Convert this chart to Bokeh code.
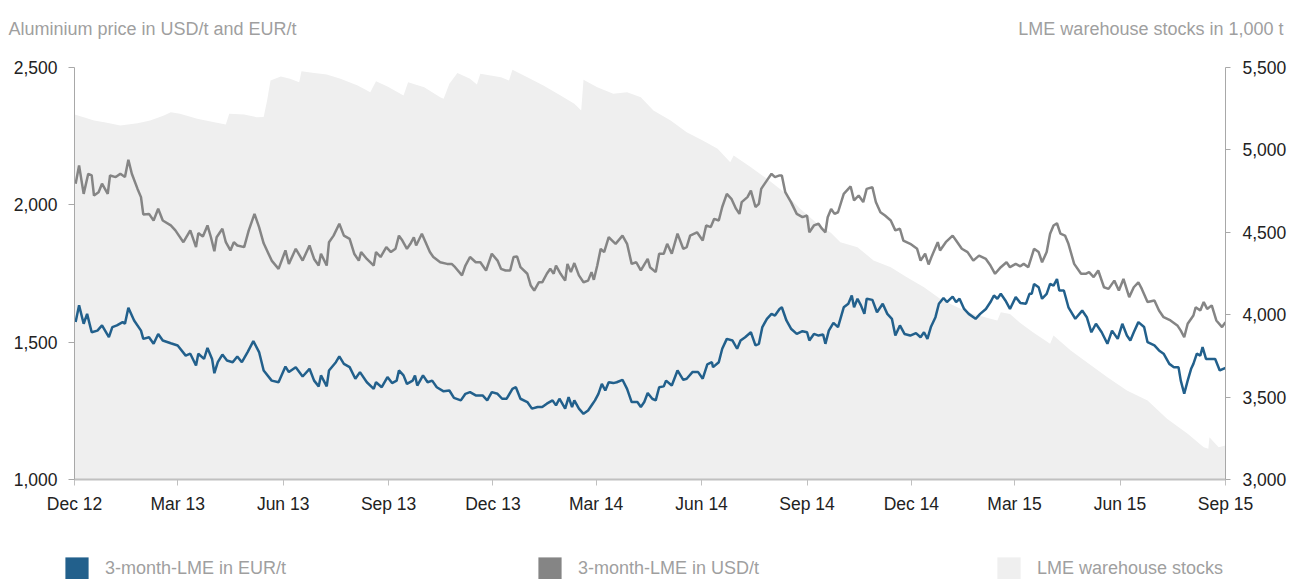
import pandas as pd
from bokeh.plotting import figure
from bokeh.layouts import column
from bokeh.models import (Range1d, LinearAxis, FixedTicker, MonthsTicker, DatetimeTickFormatter,
                          NumeralTickFormatter, Label, Legend, LegendItem)
from bokeh.embed import file_html
from bokeh.resources import INLINE

# ---------------- data ----------------
START = pd.Timestamp("2012-12-01")
END = pd.Timestamp("2015-09-01")

tick_months = [2, 5, 8, 11]          # Mar, Jun, Sep, Dec
left_ticks = [1000, 1500, 2000, 2500]
right_ticks = [3000, 3500, 4000, 4500, 5000, 5500]

title_left = "Aluminium price in USD/t and EUR/t"
title_right = "LME warehouse stocks in 1,000 t"
series_names = ["3-month-LME in EUR/t", "3-month-LME in USD/t", "LME warehouse stocks"]

# days since 2012-12-01
usd_day = [1, 4, 8, 12, 15, 17, 21, 24, 29, 31, 36, 40, 44, 47, 50, 55, 58, 60, 65, 69, 73, 77, 84, 88, 95,
           101, 106, 108, 112, 116, 119, 122, 124, 129, 132, 136, 139, 142, 148, 152, 157, 161, 165, 172, 178,
           184, 187, 193, 199, 205, 209, 213, 215, 220, 222, 226, 231, 235, 240, 244, 248, 250, 255, 261, 263,
           267, 272, 276, 280, 283, 286, 290, 293, 296, 298, 303, 310, 313, 319, 325, 329, 332, 338, 341, 345,
           350, 354, 359, 364, 369, 372, 376, 380, 383, 386, 389, 395, 398, 401, 405, 408, 412, 415, 418, 420,
           424, 428, 430, 433, 436, 440, 444, 448, 451, 453, 456, 459, 462, 466, 469, 472, 478, 482, 486, 490,
           494, 500, 502, 507, 510, 514, 517, 521, 526, 531, 534, 537, 543, 548, 551, 555, 558, 562, 565, 569,
           573, 577, 580, 582, 587, 590, 594, 597, 599, 604, 608, 611, 615, 617, 620, 625, 630, 635, 639, 641,
           645, 649, 652, 655, 657, 660, 663, 666, 671, 677, 680, 684, 688, 691, 696, 699, 703, 707, 712, 716,
           720, 723, 729, 735, 738, 742, 745, 748, 753, 755, 760, 766, 769, 774, 779, 784, 789, 795, 799, 803,
           808, 813, 816, 821, 825, 828, 832, 837, 841, 844, 848, 851, 854, 857, 860, 864, 867, 872, 878, 882,
           885, 889, 893, 898, 902, 907, 911, 915, 920, 924, 928, 931, 936, 942, 946, 950, 956, 962, 965, 968,
           971, 976, 978, 982, 985, 988, 992, 996, 1001, 1004]
usd_val = [2077, 2143, 2040, 2113, 2107, 2034, 2046, 2077, 2040, 2107, 2101, 2113, 2101, 2164, 2113, 2058, 2028,
           1965, 1967, 1943, 1986, 1943, 1925, 1907, 1864, 1907, 1846, 1897, 1885, 1925, 1882, 1831, 1882, 1913,
           1864, 1834, 1864, 1852, 1846, 1907, 1967, 1919, 1860, 1797, 1767, 1834, 1785, 1840, 1797, 1852, 1803,
           1779, 1822, 1779, 1864, 1888, 1931, 1888, 1876, 1822, 1797, 1828, 1803, 1779, 1828, 1810, 1846, 1828,
           1840, 1888, 1870, 1840, 1858, 1882, 1852, 1895, 1828, 1810, 1791, 1785, 1785, 1773, 1743, 1779, 1810,
           1791, 1791, 1761, 1822, 1797, 1767, 1761, 1761, 1810, 1812, 1773, 1749, 1706, 1688, 1718, 1718, 1749,
           1767, 1749, 1779, 1749, 1724, 1785, 1755, 1788, 1743, 1718, 1724, 1755, 1727, 1779, 1840, 1828, 1882,
           1870, 1858, 1888, 1858, 1785, 1791, 1761, 1803, 1773, 1755, 1822, 1822, 1858, 1822, 1895, 1840, 1846,
           1888, 1900, 1870, 1925, 1919, 1949, 1943, 1992, 2040, 2022, 1986, 1967, 2010, 2028, 2052, 1992, 2004,
           2058, 2089, 2113, 2101, 2107, 2107, 2046, 2010, 1967, 1955, 1961, 1900, 1925, 1931, 1913, 1900, 1955,
           1985, 1967, 1973, 2040, 2067, 2016, 2034, 2010, 2058, 2064, 2010, 1973, 1961, 1943, 1907, 1913, 1870,
           1858, 1840, 1797, 1822, 1783, 1815, 1864, 1834, 1864, 1888, 1870, 1840, 1828, 1797, 1815, 1803, 1779,
           1749, 1773, 1791, 1773, 1785, 1776, 1785, 1773, 1840, 1828, 1791, 1828, 1895, 1925, 1933, 1895, 1888,
           1858, 1785, 1749, 1749, 1755, 1737, 1761, 1700, 1694, 1724, 1688, 1730, 1664, 1700, 1718, 1694, 1646,
           1652, 1615, 1591, 1579, 1561, 1542, 1518, 1567, 1597, 1627, 1615, 1646, 1621, 1634, 1579, 1555, 1573]

eur_day = [1, 4, 8, 11, 15, 20, 24, 30, 33, 37, 42, 44, 47, 52, 58, 60, 65, 69, 73, 77, 84, 90, 97, 101, 106,
           108, 113, 116, 120, 122, 125, 129, 133, 138, 142, 146, 151, 156, 161, 165, 172, 178, 184, 187, 193,
           199, 205, 209, 213, 215, 220, 222, 228, 231, 235, 240, 245, 249, 255, 261, 263, 268, 273, 277, 281,
           283, 287, 290, 295, 297, 299, 304, 308, 312, 316, 322, 327, 331, 337, 341, 345, 350, 356, 360, 364,
           369, 373, 377, 382, 385, 389, 395, 399, 404, 408, 412, 417, 420, 423, 428, 431, 434, 436, 440, 444,
           448, 452, 454, 457, 460, 463, 466, 470, 473, 478, 482, 486, 491, 494, 497, 500, 504, 507, 510, 514,
           516, 521, 526, 531, 534, 539, 544, 548, 552, 556, 557, 562, 565, 569, 574, 578, 581, 585, 590, 594,
           597, 600, 604, 608, 611, 615, 617, 621, 625, 630, 635, 639, 641, 645, 649, 653, 655, 658, 662, 666,
           671, 675, 678, 680, 683, 686, 689, 691, 696, 700, 705, 709, 713, 716, 720, 724, 729, 734, 738, 741,
           744, 747, 751, 754, 758, 761, 766, 769, 772, 776, 780, 786, 790, 795, 799, 802, 805, 808, 812, 816,
           821, 825, 830, 833, 835, 837, 841, 844, 848, 851, 854, 857, 859, 863, 867, 873, 879, 883, 887, 891,
           896, 901, 905, 910, 914, 918, 921, 924, 928, 933, 936, 942, 946, 950, 955, 959, 963, 965, 968, 971,
           974, 976, 979, 982, 984, 987, 991, 995, 999, 1002, 1004]
eur_val = [1573, 1634, 1567, 1603, 1536, 1542, 1561, 1518, 1555, 1561, 1573, 1567, 1625, 1579, 1542, 1512, 1518,
           1494, 1530, 1506, 1496, 1488, 1451, 1458, 1415, 1458, 1439, 1479, 1439, 1387, 1427, 1455, 1433, 1427,
           1448, 1427, 1464, 1504, 1464, 1397, 1360, 1354, 1411, 1391, 1409, 1375, 1403, 1360, 1339, 1379, 1339,
           1397, 1427, 1448, 1421, 1409, 1367, 1391, 1354, 1330, 1354, 1336, 1373, 1351, 1360, 1397, 1379, 1348,
           1360, 1379, 1342, 1379, 1354, 1360, 1336, 1321, 1324, 1297, 1288, 1312, 1318, 1306, 1306, 1288, 1318,
           1312, 1294, 1294, 1330, 1336, 1294, 1282, 1258, 1264, 1264, 1276, 1288, 1270, 1294, 1258, 1300, 1264,
           1288, 1258, 1239, 1251, 1276, 1288, 1312, 1348, 1324, 1354, 1351, 1354, 1363, 1330, 1282, 1282, 1264,
           1282, 1315, 1294, 1288, 1336, 1339, 1360, 1342, 1397, 1363, 1367, 1391, 1391, 1367, 1419, 1427, 1409,
           1427, 1476, 1512, 1506, 1476, 1506, 1518, 1536, 1488, 1494, 1555, 1585, 1603, 1597, 1621, 1627, 1579,
           1549, 1530, 1540, 1536, 1506, 1530, 1524, 1528, 1494, 1542, 1570, 1555, 1627, 1640, 1670, 1627, 1658,
           1634, 1603, 1658, 1654, 1609, 1640, 1603, 1585, 1524, 1561, 1530, 1524, 1533, 1518, 1536, 1512, 1555,
           1591, 1640, 1661, 1646, 1666, 1646, 1658, 1621, 1603, 1585, 1603, 1621, 1646, 1670, 1658, 1676, 1652,
           1621, 1664, 1643, 1640, 1676, 1676, 1712, 1700, 1658, 1676, 1712, 1706, 1730, 1688, 1688, 1627, 1585,
           1615, 1591, 1536, 1567, 1536, 1494, 1542, 1512, 1567, 1524, 1506, 1536, 1573, 1555, 1500, 1488, 1470,
           1458, 1421, 1409, 1409, 1360, 1312, 1360, 1403, 1421, 1458, 1451, 1482, 1439, 1439, 1439, 1397, 1403,
           1406]

stock_day = [0, 8, 17, 26, 40, 55, 66, 78, 84, 92, 107, 122, 132, 135, 148, 159, 165, 168, 171, 180, 188, 196,
             198, 209, 220, 232, 247, 258, 263, 273, 287, 291, 305, 319, 322, 327, 334, 345, 351, 354, 372, 379,
             382, 395, 409, 424, 436, 442, 444, 456, 470, 482, 494, 505, 520, 534, 548, 561, 572, 575, 590, 604,
             619, 633, 648, 660, 668, 683, 697, 712, 726, 741, 755, 770, 784, 799, 805, 808, 816, 825, 836, 851,
             854, 869, 883, 901, 918, 936, 953, 971, 985, 989, 990, 998, 1004]
stock_val = [5215, 5198, 5178, 5168, 5148, 5162, 5178, 5209, 5229, 5219, 5189, 5168, 5154, 5219, 5215, 5198, 5200,
             5300, 5421, 5445, 5431, 5411, 5478, 5466, 5458, 5431, 5391, 5350, 5417, 5385, 5330, 5411, 5380, 5320,
             5310, 5401, 5466, 5431, 5397, 5462, 5441, 5421, 5486, 5441, 5391, 5330, 5280, 5239, 5425, 5380, 5340,
             5350, 5320, 5239, 5178, 5107, 5057, 5007, 4925, 4966, 4895, 4825, 4743, 4643, 4552, 4495, 4440, 4410,
             4329, 4288, 4228, 4167, 4097, 4045, 4005, 3975, 3965, 4015, 4005, 3950, 3894, 3823, 3874, 3783, 3712,
             3621, 3540, 3479, 3368, 3277, 3196, 3186, 3257, 3196, 3206]


def to_dates(days):
    return START + pd.to_timedelta(days, unit="D")


usd_dates = to_dates(usd_day)
eur_dates = to_dates(eur_day)
stock_dates = to_dates(stock_day)

# ---------------- styles ----------------
BLUE = "#22608c"
GRAY = "#858585"
AREA = "#efefef"
TXT_GRAY = "#9f9f9f"
FONT = "Liberation Sans"
W = 1289
NAN = float("nan")


def blank(height):
    f = figure(width=W, height=height, x_range=Range1d(0, 1), y_range=Range1d(0, 1),
               output_backend="svg", toolbar_location=None,
               x_axis_location=None, y_axis_location=None,
               min_border=0, min_border_left=0, min_border_right=0,
               min_border_top=0, min_border_bottom=0)
    f.grid.visible = False
    f.outline_line_color = None
    f.frame_align = False
    return f


# ---------------- header (axis titles) ----------------
header = blank(50)
header.add_layout(Label(x=8, y=22, x_units="screen", y_units="screen", text=title_left,
                        text_font=FONT, text_font_size="18px", text_color=TXT_GRAY,
                        text_align="left", text_baseline="alphabetic"))
header.add_layout(Label(x=1283, y=22, x_units="screen", y_units="screen", text=title_right,
                        text_font=FONT, text_font_size="18px", text_color=TXT_GRAY,
                        text_align="right", text_baseline="alphabetic"))

# ---------------- main chart ----------------
p = figure(width=W, height=490, x_axis_type="datetime",
           x_range=Range1d(START, END), y_range=Range1d(left_ticks[0], left_ticks[-1]),
           output_backend="svg", toolbar_location=None,
           min_border_left=74, min_border_right=63, min_border_top=17, min_border_bottom=61)
p.frame_align = False
p.extra_y_ranges = {"stocks": Range1d(right_ticks[0], right_ticks[-1])}

p.varea(x=stock_dates, y1=right_ticks[0], y2=stock_val, y_range_name="stocks", fill_color=AREA)
p.line(usd_dates, usd_val, line_color=GRAY, line_width=2.5)
p.line(eur_dates, eur_val, line_color=BLUE, line_width=2.5)

right_axis = LinearAxis(y_range_name="stocks")
p.add_layout(right_axis, "right")

p.yaxis[0].ticker = FixedTicker(ticks=left_ticks)
right_axis.ticker = FixedTicker(ticks=right_ticks)
for ax in (p.yaxis[0], right_axis):
    ax.formatter = NumeralTickFormatter(format="0,0")

p.xaxis[0].ticker = MonthsTicker(months=tick_months)
p.xaxis[0].formatter = DatetimeTickFormatter(months="%b %y", days="%b %y")

for ax in (p.xaxis[0], p.yaxis[0], right_axis):
    ax.major_label_text_font = FONT
    ax.major_label_text_font_size = "17.5px"
    ax.major_label_text_color = "#222222"
    ax.minor_tick_line_color = None
    ax.major_tick_in = 0
    ax.major_tick_out = 6
    ax.axis_line_color = "#a8a8a8"
    ax.major_tick_line_color = "#a8a8a8"

p.yaxis[0].major_label_standoff = 11
right_axis.major_label_standoff = 12
right_axis.major_tick_out = 5
p.xaxis[0].major_label_standoff = 8
p.xaxis[0].axis_line_color = "#c0c0c0"
p.xaxis[0].axis_line_width = 2
p.xaxis[0].major_tick_line_color = "#c0c0c0"

p.xgrid.visible = False
p.ygrid.visible = False
p.outline_line_color = None

# ---------------- footer (legend) ----------------
footer = blank(39)
keys = []
for col in (BLUE, GRAY, AREA):
    keys.append(footer.quad(left=[NAN], right=[NAN], top=[NAN], bottom=[NAN],
                            fill_color=col, line_color=None))

for name, key, xpos in zip(series_names, keys, (62, 535, 994)):
    lg = Legend(items=[LegendItem(label=name, renderers=[key])], location=(xpos, -4),
                glyph_width=29, glyph_height=29, label_standoff=14, padding=0, margin=0,
                spacing=0, label_height=29, border_line_color=None, background_fill_alpha=0,
                label_text_font=FONT, label_text_font_size="18px", label_text_color=TXT_GRAY,
                label_text_baseline="middle")
    footer.add_layout(lg)

layout = column(header, p, footer, spacing=0)
open("out.html", "w").write(file_html(layout, INLINE))
